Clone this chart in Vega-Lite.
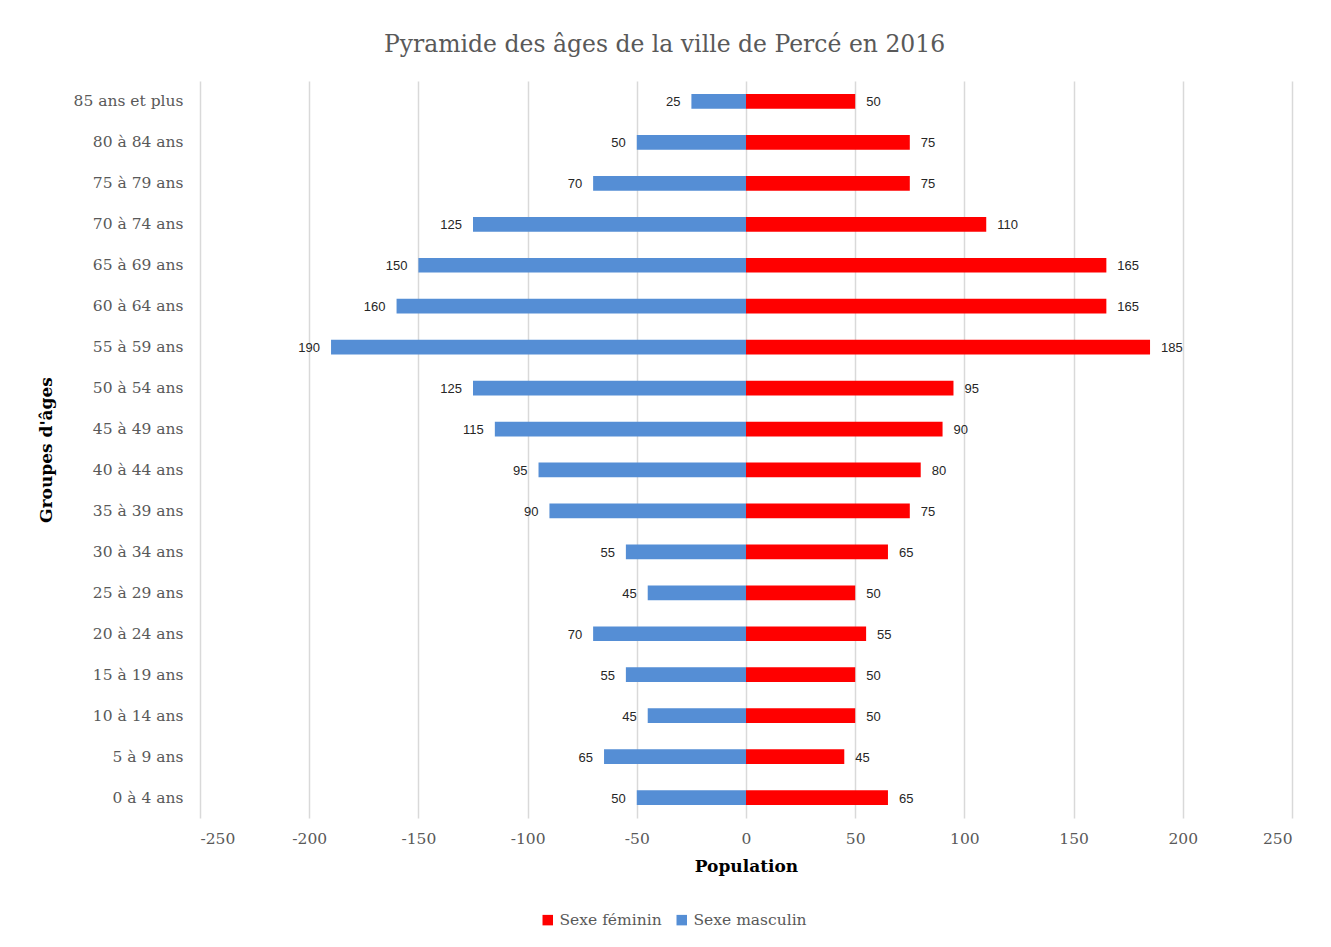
{
  "$schema": "https://vega.github.io/schema/vega-lite/v6.json",
  "width": 1092,
  "height": 737,
  "autosize": {"type": "none"},
  "padding": {"left": 200, "top": 81, "right": 39, "bottom": 129},
  "background": "white",
  "title": {
    "text": "Pyramide des âges de la ville de Percé en 2016",
    "font": "DejaVu Serif",
    "fontSize": 23.5,
    "fontWeight": "normal",
    "color": "#595959",
    "anchor": "middle",
    "frame": "bounds",
    "baseline": "alphabetic",
    "offset": 6
  },
  "data": {
    "values": [
      {"age": "85 ans et plus", "sexe": "Sexe masculin", "population": 25},
      {"age": "85 ans et plus", "sexe": "Sexe féminin", "population": 50},
      {"age": "80 à 84 ans", "sexe": "Sexe masculin", "population": 50},
      {"age": "80 à 84 ans", "sexe": "Sexe féminin", "population": 75},
      {"age": "75 à 79 ans", "sexe": "Sexe masculin", "population": 70},
      {"age": "75 à 79 ans", "sexe": "Sexe féminin", "population": 75},
      {"age": "70 à 74 ans", "sexe": "Sexe masculin", "population": 125},
      {"age": "70 à 74 ans", "sexe": "Sexe féminin", "population": 110},
      {"age": "65 à 69 ans", "sexe": "Sexe masculin", "population": 150},
      {"age": "65 à 69 ans", "sexe": "Sexe féminin", "population": 165},
      {"age": "60 à 64 ans", "sexe": "Sexe masculin", "population": 160},
      {"age": "60 à 64 ans", "sexe": "Sexe féminin", "population": 165},
      {"age": "55 à 59 ans", "sexe": "Sexe masculin", "population": 190},
      {"age": "55 à 59 ans", "sexe": "Sexe féminin", "population": 185},
      {"age": "50 à 54 ans", "sexe": "Sexe masculin", "population": 125},
      {"age": "50 à 54 ans", "sexe": "Sexe féminin", "population": 95},
      {"age": "45 à 49 ans", "sexe": "Sexe masculin", "population": 115},
      {"age": "45 à 49 ans", "sexe": "Sexe féminin", "population": 90},
      {"age": "40 à 44 ans", "sexe": "Sexe masculin", "population": 95},
      {"age": "40 à 44 ans", "sexe": "Sexe féminin", "population": 80},
      {"age": "35 à 39 ans", "sexe": "Sexe masculin", "population": 90},
      {"age": "35 à 39 ans", "sexe": "Sexe féminin", "population": 75},
      {"age": "30 à 34 ans", "sexe": "Sexe masculin", "population": 55},
      {"age": "30 à 34 ans", "sexe": "Sexe féminin", "population": 65},
      {"age": "25 à 29 ans", "sexe": "Sexe masculin", "population": 45},
      {"age": "25 à 29 ans", "sexe": "Sexe féminin", "population": 50},
      {"age": "20 à 24 ans", "sexe": "Sexe masculin", "population": 70},
      {"age": "20 à 24 ans", "sexe": "Sexe féminin", "population": 55},
      {"age": "15 à 19 ans", "sexe": "Sexe masculin", "population": 55},
      {"age": "15 à 19 ans", "sexe": "Sexe féminin", "population": 50},
      {"age": "10 à 14 ans", "sexe": "Sexe masculin", "population": 45},
      {"age": "10 à 14 ans", "sexe": "Sexe féminin", "population": 50},
      {"age": "5 à 9 ans", "sexe": "Sexe masculin", "population": 65},
      {"age": "5 à 9 ans", "sexe": "Sexe féminin", "population": 45},
      {"age": "0 à 4 ans", "sexe": "Sexe masculin", "population": 50},
      {"age": "0 à 4 ans", "sexe": "Sexe féminin", "population": 65}
    ]
  },
  "transform": [
    {"calculate": "datum.sexe === 'Sexe masculin' ? -datum.population : datum.population", "as": "valeur"}
  ],
  "encoding": {
    "y": {
      "field": "age",
      "type": "nominal",
      "sort": null,
      "scale": {"paddingInner": 0.64, "paddingOuter": 0.32},
      "axis": {
        "title": "Groupes d'âges",
        "titleFont": "DejaVu Serif",
        "titleFontSize": 17,
        "titleFontWeight": "bold",
        "titleColor": "black",
        "titlePadding": 18,
        "labelFont": "DejaVu Serif",
        "labelFontSize": 15.5,
        "labelColor": "#595959",
        "labelPadding": 17,
        "ticks": false,
        "domain": false,
        "grid": false
      }
    },
    "x": {
      "field": "valeur",
      "type": "quantitative",
      "scale": {"domain": [-250, 250], "nice": false},
      "axis": {
        "title": "Population",
        "titleFont": "DejaVu Serif",
        "titleFontSize": 17,
        "titleFontWeight": "bold",
        "titleColor": "black",
        "titlePadding": 12,
        "labelFont": "DejaVu Serif",
        "labelFontSize": 15.5,
        "labelColor": "#595959",
        "labelPadding": 13,
        "values": [-250, -200, -150, -100, -50, 0, 50, 100, 150, 200, 250],
        "labelExpr": "datum.value < 0 ? '-' + abs(datum.value) : '' + datum.value",
        "ticks": false,
        "domain": false,
        "grid": true,
        "gridColor": "#d9d9d9",
        "gridWidth": 1.5
      }
    }
  },
  "layer": [
    {
      "mark": {"type": "bar"},
      "encoding": {
        "color": {
          "field": "sexe",
          "type": "nominal",
          "scale": {"domain": ["Sexe féminin", "Sexe masculin"], "range": ["#ff0000", "#558ed5"]},
          "legend": {
            "title": null,
            "orient": "none",
            "direction": "horizontal",
            "legendX": 340,
            "legendY": 831,
            "symbolType": "square",
            "symbolSize": 110,
            "symbolStrokeWidth": 0,
            "labelFont": "DejaVu Serif",
            "labelFontSize": 15.5,
            "labelColor": "#595959",
            "labelOffset": 4,
            "columnPadding": 12
          }
        }
      }
    },
    {
      "transform": [{"filter": "datum.sexe === 'Sexe masculin'"}],
      "mark": {"type": "text", "align": "right", "dx": -11, "dy": 1, "font": "Liberation Sans", "fontSize": 13, "color": "#262626"},
      "encoding": {"text": {"field": "population", "type": "quantitative"}}
    },
    {
      "transform": [{"filter": "datum.sexe === 'Sexe féminin'"}],
      "mark": {"type": "text", "align": "left", "dx": 11, "dy": 1, "font": "Liberation Sans", "fontSize": 13, "color": "#262626"},
      "encoding": {"text": {"field": "population", "type": "quantitative"}}
    }
  ],
  "config": {"view": {"stroke": null}}
}
